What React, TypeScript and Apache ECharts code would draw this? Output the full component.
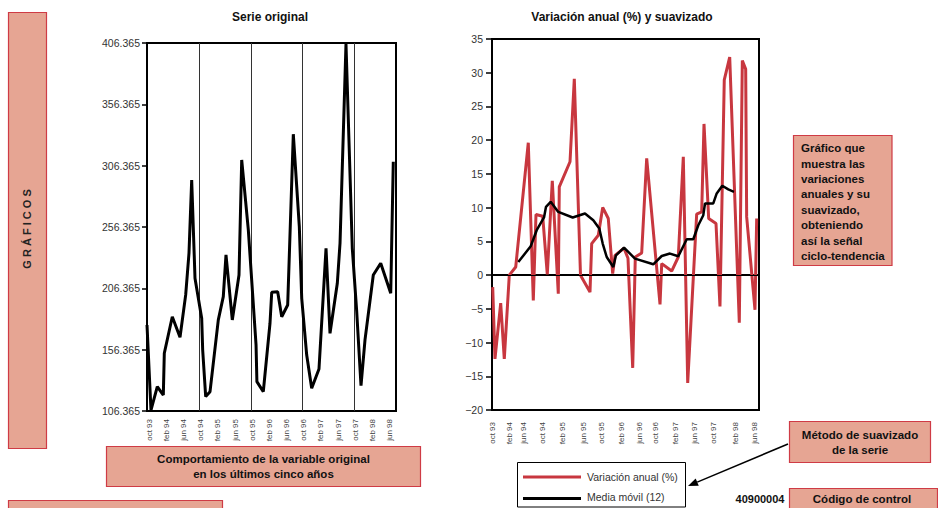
import React, { useEffect, useRef } from 'react';
import * as echarts from 'echarts';

// ---------- data ----------
const xLabels = ['oct 93', 'feb 94', 'jun 94', 'oct 94', 'feb 95', 'jun 95', 'oct 95', 'feb 96', 'jun 96', 'oct 96', 'feb 97', 'jun 97', 'oct 97', 'feb 98', 'jun 98'];
const leftLabelPos = [0.5, 4.5, 8.5, 12.5, 16.5, 20.5, 24.5, 28.5, 32.5, 36.5, 40.5, 44.5, 48.5, 52.5, 56.5];
const rightLabelPos = [0, 3.66, 6.77, 10.65, 14.96, 19.32, 23.22, 27.45, 31.32, 34.65, 38.94, 42.96, 46.84, 51.64, 55.66];
const yearMarks = [12.2, 24.2, 36.2, 48.3];
const leftYMin = 106.365;
const leftYMax = 406.365;
const leftYStep = 50;

// Serie original
const origX = [0, 0.93, 2.4, 3.8, 4.03, 5.89, 7.69, 9.01, 9.78, 10.41, 11.18, 12.74, 12.97, 13.67, 14.68, 16.61, 17.77, 18.4, 19.87, 21.43, 22.06, 23.6, 25.4, 25.6, 27.09, 28.65, 29.05, 30.44, 31.38, 32.77, 34.08, 35.48, 36.04, 37.2, 38.36, 40.06, 41.7, 42.63, 44.33, 44.96, 46.35, 47.82, 48.85, 49.85, 50.78, 52.71, 54.44, 56.77, 57.37];
const origY = [176.5, 107, 126.2, 119.4, 153.4, 183.2, 166.5, 201, 235, 294.7, 214.6, 182, 156.1, 118.1, 122.1, 180.6, 199.6, 233.6, 180.6, 217.2, 311, 254, 160.2, 130.3, 122.1, 177.9, 203.2, 203.6, 183.2, 192.8, 332, 256.6, 198.2, 152, 124.9, 140.6, 239, 169.7, 210.5, 243.1, 405.5, 239, 187.3, 127, 164.3, 217.2, 226.8, 202.4, 309.6];

// Variación anual (%)
const varX = [0.15, 0.63, 1.84, 2.6, 3.66, 5.02, 7.68, 8.74, 9.31, 10.73, 11.7, 12.76, 14.03, 14.24, 16.51, 17.42, 18.73, 20.74, 21.1, 22.5, 23.43, 24.61, 25.54, 26.03, 27.94, 28.78, 29.78, 30.33, 31.68, 32.74, 35.56, 35.92, 38.03, 39.43, 40.49, 41.42, 43.32, 44.38, 44.87, 45.86, 47.41, 48.25, 49.16, 50.31, 52.34, 52.98, 53.69, 53.9, 55.66, 56.02];
const varY = [-1.78, -12.42, -4.16, -12.42, 0, 1.2, 19.63, -3.75, 8.99, 8.73, 0.11, 13.98, -2.76, 13.09, 16.8, 29.1, -0.04, -2.52, 4.67, 5.91, 10.03, 8.39, 0.21, 2.93, 3.98, 2.49, -13.76, 2.68, 3.28, 17.31, -4.35, 1.7, 0.6, 2.68, 17.55, -15.99, 9.03, 9.37, 22.41, 8.39, 7.65, -4.65, 28.95, 32.32, -7.07, 31.82, 30.54, 8.63, -5.14, 8.39];

// Media móvil (12)
const mmX = [5.57, 8.19, 9.46, 11.01, 11.43, 12.42, 14.03, 17.08, 19.68, 21.44, 22.71, 23.43, 24.28, 25.67, 26.24, 27.94, 30.26, 34.14, 35.92, 37.67, 39.43, 41.21, 42.6, 43.66, 44.72, 45.08, 46.83, 47.56, 48.74, 50.01, 51.22];
const mmY = [1.94, 4.27, 6.65, 8.54, 10.12, 10.86, 9.37, 8.54, 9.13, 8.14, 6.9, 4.67, 2.68, 1.2, 2.93, 4.08, 2.44, 1.6, 2.83, 3.19, 2.79, 5.31, 5.31, 7.39, 8.88, 10.62, 10.62, 12.11, 13.24, 12.7, 12.35];

// ---------- styles ----------
const FONT = 'Liberation Sans, Arial, Helvetica, sans-serif';
const BOX_FILL = '#e6a593';
const BOX_STROKE = '#cf3b45';
const RED = '#c8373f';

const zip = (xs: number[], ys: number[]) => xs.map((x, i) => [x, ys[i]]);
const labelAt = (pos: number[]) => (v: number) => {
  const i = pos.findIndex((p) => Math.abs(p - v) < 1e-6);
  return i >= 0 ? xLabels[i] : '';
};
const leftYLabel = (v: number) => {
  const k = Math.round((v - leftYMin) / leftYStep);
  return (leftYMin + k * leftYStep).toFixed(3);
};

const boxRect = (x: number, y: number, w: number, h: number) => ({
  type: 'rect',
  shape: { x, y, width: w, height: h },
  style: { fill: BOX_FILL, stroke: BOX_STROKE, lineWidth: 1.2 },
  silent: true,
});

const boxText = (x: number, y: number, text: string, align: string, vAlign: string, size = 11.5, lineHeight = 15) => ({
  type: 'text',
  x,
  y,
  style: {
    text,
    fill: '#111',
    font: `bold ${size}px ${FONT}`,
    align,
    verticalAlign: vAlign,
    lineHeight,
  },
  silent: true,
});

// arrow geometry
const arrowFrom = [788, 444];
const arrowTo = [688, 486];
const adx = arrowTo[0] - arrowFrom[0];
const ady = arrowTo[1] - arrowFrom[1];
const alen = Math.sqrt(adx * adx + ady * ady);
const ux = adx / alen;
const uy = ady / alen;
const headL = 10;
const headW = 4;
const baseX = arrowTo[0] - ux * headL;
const baseY = arrowTo[1] - uy * headL;

const option: any = {
  animation: false,
  backgroundColor: '#fff',
  textStyle: { fontFamily: FONT },
  grid: [
    { left: 147, top: 43, width: 249, height: 368, show: true, borderColor: '#000', borderWidth: 2, backgroundColor: 'transparent' },
    { left: 492, top: 39, width: 267, height: 371, show: true, borderColor: '#000', borderWidth: 2, backgroundColor: 'transparent' },
  ],
  xAxis: [
    {
      type: 'value',
      gridIndex: 0,
      min: 0,
      max: 58,
      axisLine: { show: true, lineStyle: { color: '#000', width: 2 } },
      axisTick: { show: false },
      splitLine: { show: false },
      axisLabel: {
        customValues: leftLabelPos,
        formatter: labelAt(leftLabelPos),
        rotate: 90,
        fontSize: 8,
        color: '#444',
        margin: 8,
        fontFamily: FONT,
      },
    },
    {
      type: 'value',
      gridIndex: 1,
      min: 0,
      max: 56.51,
      axisLine: { show: true, lineStyle: { color: '#000', width: 2 } },
      axisTick: { show: false },
      splitLine: { show: false },
      axisLabel: {
        customValues: rightLabelPos,
        formatter: labelAt(rightLabelPos),
        rotate: 90,
        fontSize: 8,
        color: '#444',
        margin: 12,
        fontFamily: FONT,
      },
    },
  ],
  yAxis: [
    {
      type: 'value',
      gridIndex: 0,
      min: leftYMin,
      max: leftYMax,
      interval: leftYStep,
      axisLine: { show: true, lineStyle: { color: '#000', width: 2 } },
      axisTick: { show: true, length: 5, lineStyle: { color: '#000', width: 1.5 } },
      splitLine: { show: false },
      axisLabel: {
        formatter: leftYLabel,
        fontSize: 10.5,
        color: '#333',
        margin: 7,
        fontFamily: FONT,
      },
    },
    {
      type: 'value',
      gridIndex: 1,
      min: -20,
      max: 35,
      interval: 5,
      axisLine: { show: true, lineStyle: { color: '#000', width: 2 } },
      axisTick: { show: true, length: 6, lineStyle: { color: '#000', width: 1.5 } },
      splitLine: { show: false },
      axisLabel: {
        formatter: (v: number) => (v < 0 ? '\u2212' + Math.abs(v) : String(v)),
        fontSize: 10.5,
        color: '#333',
        margin: 9,
        fontFamily: FONT,
      },
    },
  ],
  series: [
    {
      name: 'Serie original',
      type: 'line',
      xAxisIndex: 0,
      yAxisIndex: 0,
      data: zip(origX, origY),
      symbol: 'none',
      lineStyle: { color: '#000', width: 3 },
      z: 3,
      markLine: {
        silent: true,
        symbol: 'none',
        label: { show: false },
        lineStyle: { color: '#333', width: 1, type: 'solid' },
        data: yearMarks.map((x) => ({ xAxis: x })),
        z: 1,
      },
    },
    {
      name: 'Variación anual (%)',
      type: 'line',
      xAxisIndex: 1,
      yAxisIndex: 1,
      data: zip(varX, varY),
      symbol: 'none',
      lineStyle: { color: RED, width: 3 },
      z: 3,
      markLine: {
        silent: true,
        symbol: 'none',
        label: { show: false },
        lineStyle: { color: '#000', width: 1, type: 'solid' },
        data: [{ yAxis: 0 }],
      },
    },
    {
      name: 'Media móvil (12)',
      type: 'line',
      xAxisIndex: 1,
      yAxisIndex: 1,
      data: zip(mmX, mmY),
      symbol: 'none',
      lineStyle: { color: '#000', width: 2.5 },
      z: 4,
    },
  ],
  graphic: [
    // titles
    { type: 'text', x: 270, y: 17, silent: true, style: { text: 'Serie original', font: `bold 12px ${FONT}`, fill: '#111', align: 'center', verticalAlign: 'middle' } },
    { type: 'text', x: 622, y: 17, silent: true, style: { text: 'Variación anual (%) y suavizado', font: `bold 12px ${FONT}`, fill: '#111', align: 'center', verticalAlign: 'middle' } },
    // left vertical box
    boxRect(8.5, 12.5, 38, 436),
    {
      type: 'text',
      x: 27,
      y: 229,
      rotation: Math.PI / 2,
      silent: true,
      style: { text: 'G R Á F I C O S', font: `bold 11px ${FONT}`, fill: '#222', align: 'center', verticalAlign: 'middle' },
    },
    // Comportamiento box
    boxRect(106.5, 446.5, 314, 40),
    boxText(263.5, 466, 'Comportamiento de la variable original\nen los últimos cinco años', 'center', 'middle'),
    // bottom-left partial box
    boxRect(8.5, 500.5, 214, 20),
    // right description box
    boxRect(793.5, 135.5, 98.5, 130),
    boxText(801, 140.5, 'Gráfico que\nmuestra las\nvariaciones\nanuales y su\nsuavizado,\nobteniendo\nasí la señal\nciclo-tendencia', 'left', 'top', 11.5, 15.4),
    // Método box
    boxRect(789.5, 421.5, 141, 41),
    boxText(860, 442, 'Método de suavizado\nde la serie', 'center', 'middle'),
    // Código box
    boxRect(789.5, 488.5, 148, 25),
    boxText(862, 498.5, 'Código de control', 'center', 'middle'),
    // control number
    { type: 'text', x: 760, y: 498.5, silent: true, style: { text: '40900004', font: `bold 11px ${FONT}`, fill: '#111', align: 'center', verticalAlign: 'middle' } },
    // legend
    { type: 'rect', shape: { x: 517.5, y: 462.5, width: 168, height: 44.5 }, style: { fill: '#fff', stroke: '#000', lineWidth: 1 }, silent: true },
    { type: 'line', shape: { x1: 523, y1: 477, x2: 581, y2: 477 }, style: { stroke: RED, lineWidth: 3 }, silent: true },
    { type: 'line', shape: { x1: 523, y1: 498.5, x2: 581, y2: 498.5 }, style: { stroke: '#000', lineWidth: 3 }, silent: true },
    { type: 'text', x: 587, y: 477, silent: true, style: { text: 'Variación anual (%)', font: `10.5px ${FONT}`, fill: '#333', align: 'left', verticalAlign: 'middle' } },
    { type: 'text', x: 587, y: 497, silent: true, style: { text: 'Media móvil (12)', font: `10.5px ${FONT}`, fill: '#333', align: 'left', verticalAlign: 'middle' } },
    // arrow
    { type: 'line', shape: { x1: arrowFrom[0], y1: arrowFrom[1], x2: baseX, y2: baseY }, style: { stroke: '#000', lineWidth: 1.5 }, silent: true },
    {
      type: 'polygon',
      shape: {
        points: [
          [arrowTo[0], arrowTo[1]],
          [baseX + uy * headW, baseY - ux * headW],
          [baseX - uy * headW, baseY + ux * headW],
        ],
      },
      style: { fill: '#000' },
      silent: true,
    },
  ],
};

export default function App() {
  const ref = useRef<HTMLDivElement>(null);
  useEffect(() => {
    if (!ref.current) return;
    const chart = echarts.init(ref.current, null, { renderer: 'svg' });
    chart.setOption(option);
    return () => chart.dispose();
  }, []);
  return (
    <div
      ref={ref}
      style={{ position: 'absolute', left: 0, top: 0, width: 938, height: 508, background: '#fff' }}
    />
  );
}
